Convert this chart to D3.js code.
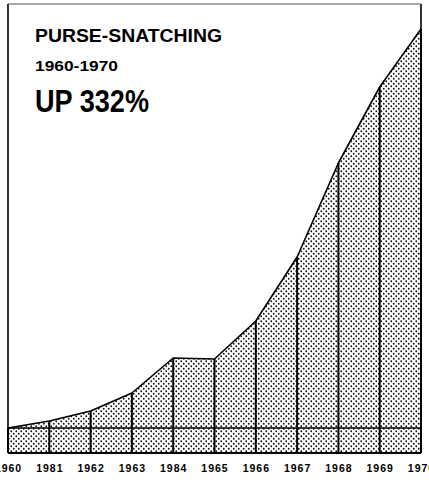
<!DOCTYPE html>
<html>
<head>
<meta charset="utf-8">
<script src="https://cdn.jsdelivr.net/npm/d3@7"></script>
<style>
  body { margin: 0; background: #fff; }
  svg { display: block; }
  .title { font-family: "Liberation Sans", Arial, sans-serif; font-weight: bold; }
  .axis text { font-family: "Liberation Sans", Arial, sans-serif; font-weight: bold; }
</style>
</head>
<body>
<div id="chart"></div>
<script>
// purse-snatching 1960-1970, values (arbitrary units, 0 = frame bottom)
var years = [1960, 1961, 1962, 1963, 1964, 1965, 1966, 1967, 1968, 1969, 1970];
var tickLabels = ["1960", "1981", "1962", "1963", "1984", "1965", "1966", "1967", "1968", "1969", "1970"];
var values = [25, 32, 42, 60, 95, 94, 132, 196, 290, 366, 424];

var width = 429, height = 480;
var margin = {top: 4, left: 8, right: 8, bottom: 27};

var svg = d3.select("#chart")
    .append("svg")
    .attr("width", width)
    .attr("height", height);

// dotted screen fill
var defs = svg.append("defs");
var pat = defs.append("pattern")
    .attr("id", "dots")
    .attr("patternUnits", "userSpaceOnUse")
    .attr("width", 5)
    .attr("height", 5);
pat.append("circle").attr("cx", 1.25).attr("cy", 1.25).attr("r", 0.9).attr("fill", "#111");
pat.append("circle").attr("cx", 3.75).attr("cy", 3.75).attr("r", 0.9).attr("fill", "#111");

var xScale = d3.scalePoint()
    .domain(years)
    .range([margin.left, width - margin.right]);

var yScale = d3.scaleLinear()
    .domain([0, 449])
    .range([height - margin.bottom, margin.top]);

var data = years.map(function(y, i) { return {year: y, value: values[i]}; });

var area = d3.area()
    .x(function(d) { return xScale(d.year); })
    .y0(yScale(0))
    .y1(function(d) { return yScale(d.value); });

var line = d3.line()
    .x(function(d) { return xScale(d.year); })
    .y(function(d) { return yScale(d.value); });

svg.append("path")
    .datum(data)
    .attr("d", area)
    .attr("fill", "url(#dots)");

// 1960 level line
svg.append("line")
    .attr("x1", xScale(1960))
    .attr("x2", xScale(1970))
    .attr("y1", yScale(values[0]))
    .attr("y2", yScale(values[0]))
    .attr("stroke", "#000")
    .attr("stroke-width", 1.5);

// yearly verticals
svg.append("g").selectAll("line")
    .data(data)
    .join("line")
    .attr("x1", function(d) { return xScale(d.year); })
    .attr("x2", function(d) { return xScale(d.year); })
    .attr("y1", yScale(0))
    .attr("y2", function(d) { return yScale(d.value); })
    .attr("stroke", "#000")
    .attr("stroke-width", 2);

svg.append("path")
    .datum(data)
    .attr("d", line)
    .attr("fill", "none")
    .attr("stroke", "#000")
    .attr("stroke-width", 1.6)
    .attr("stroke-linejoin", "round");

// frame
var x0 = xScale(1960), x1 = xScale(1970), yb = yScale(0), yt = margin.top;
svg.append("line").attr("x1", x0).attr("x2", x0).attr("y1", yt).attr("y2", yb)
    .attr("stroke", "#000").attr("stroke-width", 1.6);
svg.append("line").attr("x1", x1).attr("x2", x1).attr("y1", yt).attr("y2", yb)
    .attr("stroke", "#000").attr("stroke-width", 1.6);
svg.append("line").attr("x1", x0).attr("x2", x1).attr("y1", yb).attr("y2", yb)
    .attr("stroke", "#000").attr("stroke-width", 1.8);
svg.append("line").attr("x1", x0).attr("x2", x1).attr("y1", yt).attr("y2", yt)
    .attr("stroke", "#555").attr("stroke-width", 1);

// year labels (first and last run off the page edge, as in the print)
var xAxis = svg.append("g")
    .attr("class", "axis")
    .attr("transform", "translate(0," + yb + ")")
    .call(d3.axisBottom(xScale)
        .tickSize(0)
        .tickPadding(12)
        .tickFormat(function(d, i) { return tickLabels[i]; }));
xAxis.select(".domain").remove();
xAxis.selectAll("text")
    .attr("font-size", 10.5)
    .attr("letter-spacing", 1)
    .attr("fill", "#000");

// headline
svg.append("text").attr("class", "title")
    .attr("x", 35).attr("y", 42)
    .attr("font-size", 19)
    .attr("textLength", 187)
    .attr("lengthAdjust", "spacingAndGlyphs")
    .text("PURSE-SNATCHING");
svg.append("text").attr("class", "title")
    .attr("x", 35).attr("y", 71)
    .attr("font-size", 15)
    .attr("textLength", 83)
    .attr("lengthAdjust", "spacingAndGlyphs")
    .text("1960-1970");
svg.append("text").attr("class", "title")
    .attr("x", 35).attr("y", 112)
    .attr("font-size", 31)
    .attr("textLength", 114)
    .attr("lengthAdjust", "spacingAndGlyphs")
    .text("UP 332%");
</script>
</body>
</html>
